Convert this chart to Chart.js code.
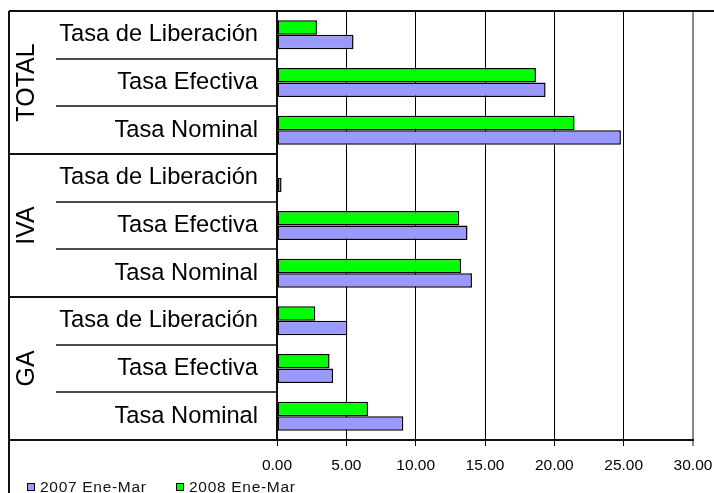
<!DOCTYPE html>
<html>
<head>
<meta charset="utf-8">
<script src="https://cdn.jsdelivr.net/npm/chart.js@4/dist/chart.umd.min.js"></script>
<style>
  html, body { margin: 0; padding: 0; background: #fff; }
  #wrap { width: 714px; height: 493px; position: relative; }
</style>
</head>
<body>
<div id="wrap"><canvas id="c"></canvas></div>
<script>
// data
var groups = ['TOTAL', 'IVA', 'GA'];
var rates = ['Tasa de Liberación', 'Tasa Efectiva', 'Tasa Nominal'];
var labels = [
  'Tasa de Liberación', 'Tasa Efectiva', 'Tasa Nominal',
  'Tasa de Liberación', 'Tasa Efectiva', 'Tasa Nominal',
  'Tasa de Liberación', 'Tasa Efectiva', 'Tasa Nominal'
];
var v2007 = [5.52, 19.37, 24.80, 0.33, 13.74, 14.06, 5.07, 4.04, 9.11];
var v2008 = [2.88, 18.67, 21.46, null, 13.14, 13.27, 2.76, 3.79, 6.56];
var xTicks = [0, 5, 10, 15, 20, 25, 30];

var FONT = '"Liberation Sans", Arial, sans-serif';

// category table, group labels and the legend
var tablePlugin = {
  id: 'table',
  afterDraw: function(chart) {
    var ctx = chart.ctx;
    var area = chart.chartArea;
    var y = chart.scales.y;
    var n = labels.length;
    var bounds = [area.top];
    for (var i = 0; i < n - 1; i++) {
      bounds.push((y.getPixelForValue(i) + y.getPixelForValue(i + 1)) / 2);
    }
    bounds.push(area.bottom);

    ctx.save();
    ctx.strokeStyle = '#111';
    // frame top and left
    ctx.lineWidth = 2;
    ctx.beginPath();
    ctx.moveTo(9, area.top); ctx.lineTo(714, area.top);
    ctx.moveTo(9, area.top); ctx.lineTo(9, 493);
    ctx.moveTo(9, area.bottom); ctx.lineTo(area.left, area.bottom);
    ctx.stroke();

    // row separators
    for (var j = 1; j < n; j++) {
      var by = Math.round(bounds[j]);
      var isGroup = (j % rates.length) == 0;
      ctx.lineWidth = isGroup ? 2 : 1.5;
      ctx.beginPath();
      ctx.moveTo(isGroup ? 9 : 56, by);
      ctx.lineTo(area.left, by);
      ctx.stroke();
    }

    // group labels, rotated
    ctx.fillStyle = '#000';
    ctx.font = '25px ' + FONT;
    ctx.textAlign = 'center';
    ctx.textBaseline = 'middle';
    for (var g = 0; g < groups.length; g++) {
      var top = bounds[g * rates.length];
      var bot = bounds[(g + 1) * rates.length];
      ctx.save();
      ctx.translate(27.5, (top + bot) / 2);
      ctx.rotate(-Math.PI / 2);
      ctx.fillText(groups[g], 0, 0);
      ctx.restore();
    }

    // legend: 2007 first, then 2008
    var items = [chart.data.datasets[1], chart.data.datasets[0]];
    var lx = [27, 176];
    ctx.font = '15.5px ' + FONT;
    ctx.textAlign = 'left';
    try { ctx.letterSpacing = '0.7px'; } catch (e) {}
    for (var k = 0; k < items.length; k++) {
      ctx.fillStyle = items[k].backgroundColor;
      ctx.fillRect(lx[k], 483, 8, 8);
      ctx.lineWidth = 1;
      ctx.strokeStyle = '#000';
      ctx.strokeRect(lx[k] + 0.5, 483.5, 7, 7);
      ctx.fillStyle = '#111';
      ctx.fillText(items[k].label, lx[k] + 13, 487.5);
    }
    ctx.restore();
  }
};

new Chart(document.getElementById('c').getContext('2d'), {
  type: 'bar',
  data: {
    labels: labels,
    datasets: [
      { label: '2008 Ene-Mar', data: v2008, backgroundColor: '#00ff00', borderColor: '#000', borderWidth: 1.5, borderSkipped: false },
      { label: '2007 Ene-Mar', data: v2007, backgroundColor: '#9999ff', borderColor: '#000', borderWidth: 1.5, borderSkipped: false }
    ]
  },
  options: {
    indexAxis: 'y',
    responsive: true,
    maintainAspectRatio: false,
    animation: false,
    datasets: { bar: { categoryPercentage: 0.61, barPercentage: 1.0 } },
    layout: { padding: { left: 9, top: 11, right: 21, bottom: 0 } },
    plugins: { legend: { display: false }, tooltip: { enabled: false } },
    scales: {
      x: {
        min: 0, max: 30,
        afterFit: function(s) { s.height = 53; s.paddingLeft = 0; s.paddingRight = 0; },
        afterBuildTicks: function(s) { s.ticks = xTicks.map(function(v) { return { value: v }; }); },
        ticks: {
          color: '#000', padding: 10,
          font: { family: FONT, size: 15.5 },
          callback: function(v) { return Number(v).toFixed(2); }
        },
        grid: {
          drawTicks: true, tickLength: 6,
          color: function(c) { return c.tick && c.tick.value == 30 ? '#888' : '#000'; },
          lineWidth: function(c) { return c.tick && c.tick.value == 30 ? 2 : 1; }
        },
        border: { display: true, color: '#111', width: 2 }
      },
      y: {
        afterFit: function(s) { s.width = 268; s.paddingTop = 0; s.paddingBottom = 0; },
        ticks: {
          color: '#000', padding: 19, autoSkip: false,
          font: { family: FONT, size: 23.7 }
        },
        grid: { display: false, drawTicks: false },
        border: { display: true, color: '#111', width: 2 }
      }
    }
  },
  plugins: [tablePlugin]
});
</script>
</body>
</html>
